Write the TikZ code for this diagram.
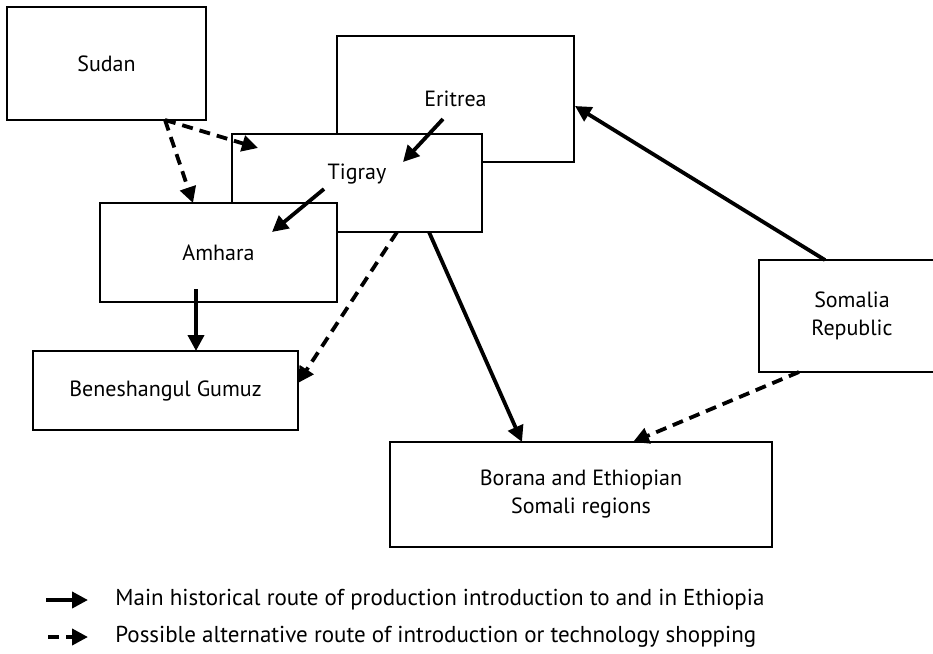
\documentclass[tikz,border=0pt]{standalone}
\usepackage{fontspec}
\setmainfont{PT Sans}
\usetikzlibrary{arrows.meta}

\begin{document}
\begin{tikzpicture}[
  x = 0.5pt, y = -0.5pt,
  region/.style = {draw, fill=white, line width=0.75pt, inner sep=0pt, align=center, font=\fontsize{11}{14}\selectfont},
  main/.style = {line width=1.9pt, -{Triangle[length=8pt,width=8pt]}},
  alt/.style = {main, dash pattern=on 5.5pt off 3.5pt},
  ]
  \useasboundingbox (0,0) rectangle (933,654);
  \clip (0,0) rectangle (933,654);

  \node[region, minimum width=118.5pt, minimum height=63pt] (eritrea) at (455.5,99) {Eritrea};
  \node[region, minimum width=125pt, minimum height=49pt] (tigray) at (357,183) {\raisebox{11pt}{Tigray}};
  \node[region, minimum width=118.5pt, minimum height=49.5pt] (amhara) at (218.5,252.5) {Amhara};
  \node[region, minimum width=99.5pt, minimum height=56.5pt] (sudan) at (106.5,63.5) {Sudan};
  \node[region, minimum width=132.5pt, minimum height=39.5pt] (benesh) at (165.5,390.5) {Beneshangul Gumuz};
  \node[region, minimum width=93pt, minimum height=56pt] (somalia) at (852,316) {Somalia\\Republic};
  \node[region, line width=1.3pt, minimum width=191pt, minimum height=52.5pt] (borana) at (581,494.5) {Borana and Ethiopian\\Somali regions};

  \coordinate (sudan out) at (165,120);
  \coordinate (tigray in) at (258,148);
  \coordinate (amhara in) at (193,203);
  \coordinate (eritrea out) at (443,119);
  \coordinate (tigray in2) at (403,162);
  \coordinate (tigray out) at (324,189);
  \coordinate (amhara in2) at (272,232);
  \coordinate (amhara out) at (196,289);
  \coordinate (benesh in) at (196,351);
  \coordinate (tigray out2) at (397,232);
  \coordinate (benesh in2) at (298,383);
  \coordinate (tigray out3) at (429,232);
  \coordinate (borana in) at (522,442);
  \coordinate (somalia out) at (825,260);
  \coordinate (eritrea in) at (575,106);
  \coordinate (somalia out2) at (799,372);
  \coordinate (borana in2) at (633,442);

  \draw[alt] (sudan out) -- (tigray in);
  \draw[alt] (sudan out) -- (amhara in);
  \draw[main] (eritrea out) -- (tigray in2);
  \draw[main] (tigray out) -- (amhara in2);
  \draw[main] (amhara out) -- (benesh in);
  \draw[alt] (tigray out2) -- (benesh in2);
  \draw[main] (tigray out3) -- (borana in);
  \draw[main] (somalia out) -- (eritrea in);
  \draw[alt] (somalia out2) -- (borana in2);

  \coordinate (key1 a) at (46,600);
  \coordinate (key1 b) at (88,600);
  \coordinate (key2 a) at (48,637);
  \coordinate (key2 b) at (88,637);
  \draw[main] (key1 a) -- (key1 b);
  \draw[alt] (key2 a) -- (key2 b);
  \node[anchor=west, inner sep=0pt, font=\fontsize{11.5}{14}\selectfont] (key1) at (115,600) {Main historical route of production introduction to and in Ethiopia};
  \node[anchor=west, inner sep=0pt, font=\fontsize{11.5}{14}\selectfont] (key2) at (115,637) {Possible alternative route of introduction or technology shopping};
\end{tikzpicture}
\end{document}
